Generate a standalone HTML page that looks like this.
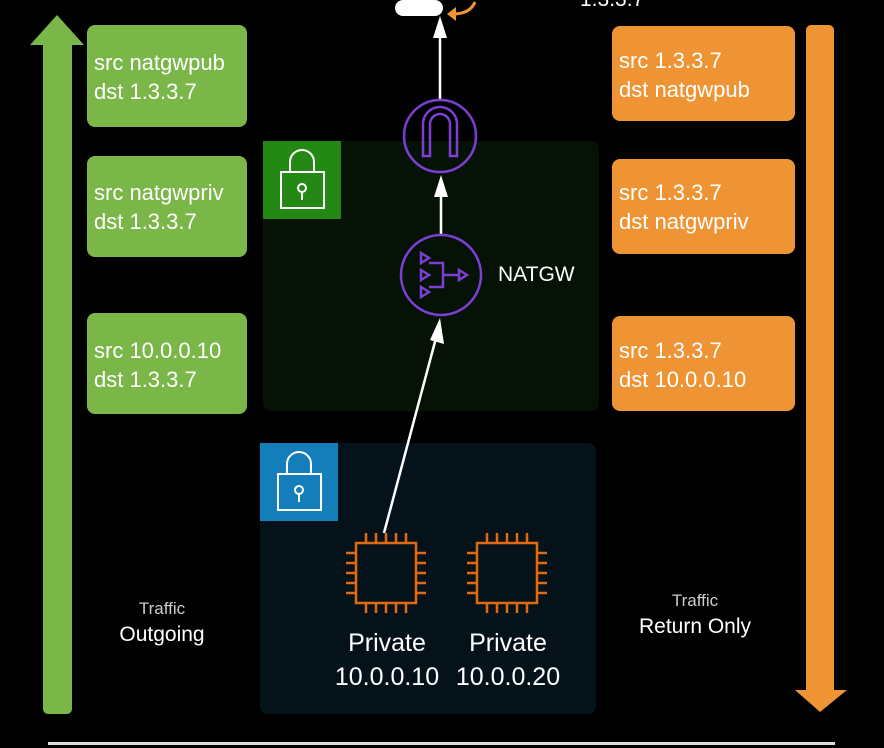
<!DOCTYPE html>
<html><head><style>
body{margin:0;background:#000;width:884px;height:748px;overflow:hidden;position:relative;font-family:"Liberation Sans","DejaVu Sans",sans-serif;}
.b{position:absolute;border-radius:8px;color:#fff;font-size:22px;line-height:29px;box-sizing:border-box;padding:22px 0 0 7px;}
.g{background:#7ab648;left:87px;width:160px;}
.o{background:#ee9434;left:612px;width:183px;}
.t{position:absolute;color:#fff;text-align:center;}
</style></head><body>
<svg width="884" height="748" style="position:absolute;left:0;top:0">
<rect x="263" y="141" width="336" height="270" rx="8" fill="#071207"/>
<rect x="263" y="141" width="78" height="78" fill="#248814"/>
<rect x="260" y="443" width="336" height="271" rx="8" fill="#05121a"/>
<rect x="260" y="443" width="78" height="78" fill="#147eba"/>
<g fill="none" stroke="#fff" stroke-width="2">
<path d="M290 172v-10a12 12 0 0 1 24 0v10"/><rect x="281" y="172" width="43" height="36"/><circle cx="302" cy="188" r="4"/><path d="M302 192v8"/>
<path d="M287 474v-10a12 12 0 0 1 24 0v10"/><rect x="278" y="474" width="43" height="36"/><circle cx="299" cy="490" r="4"/><path d="M299 494v8"/>
</g>
<rect x="43" y="40" width="29" height="674" rx="5" fill="#7ab648"/>
<path d="M30 45L57 15L84 45Z" fill="#7ab648"/>
<rect x="806" y="25" width="28" height="670" rx="5" fill="#ee9434"/>
<path d="M795 690L820 712L847 690Z" fill="#ee9434"/>
<rect x="48" y="742" width="787" height="3" fill="#ddd"/>
<rect x="395" y="0" width="48" height="16" rx="8" fill="#fff"/>
<path d="M475 2q-5 12-22 12" stroke="#ee9434" stroke-width="3" fill="none"/>
<path d="M447 14l9-7v14z" fill="#ee9434"/>
<g stroke="#fff" stroke-width="2.5" fill="#fff">
<line x1="440" y1="100" x2="440" y2="38"/><path d="M433 38L440 16L447 38Z" stroke="none"/>
<line x1="441" y1="235" x2="441" y2="195"/><path d="M434 197L441 175L448 197Z" stroke="none"/>
<line x1="384" y1="533" x2="436" y2="338"/><path d="M430 340L440 318L444 344Z" stroke="none"/>
</g>
<g fill="none" stroke="#7b3fd4" stroke-width="2.5">
<circle cx="440" cy="136" r="36"/>
<path d="M423 156v-32a17 17 0 0 1 34 0v32h-7v-32a10 10 0 0 0-20 0v32z"/>
<circle cx="441" cy="275" r="40"/>
<path d="M421 253l8 5-8 5zM421 270l8 5-8 5zM421 287l8 5-8 5zM429 263h14v24h-14M443 275h16M459 270l8 5-8 5z"/>
</g>
<g fill="none" stroke="#e2690f" stroke-width="2.5">
<rect x="356" y="543" width="60" height="60"/>
<rect x="477" y="543" width="60" height="60"/>
<path d="M366 533v10M376 533v10M386 533v10M396 533v10M406 533v10M366 603v10M376 603v10M386 603v10M396 603v10M406 603v10M346 553h10M346 563h10M346 573h10M346 583h10M346 593h10M416 553h10M416 563h10M416 573h10M416 583h10M416 593h10"/>
<path d="M487 533v10M497 533v10M507 533v10M517 533v10M527 533v10M487 603v10M497 603v10M507 603v10M517 603v10M527 603v10M467 553h10M467 563h10M467 573h10M467 583h10M467 593h10M537 553h10M537 563h10M537 573h10M537 583h10M537 593h10"/>
</g>
</svg>
<div class="b g" style="top:25px;height:102px;padding-top:23px">src natgwpub<br>dst 1.3.3.7</div>
<div class="b g" style="top:156px;height:101px;padding-top:22px">src natgwpriv<br>dst 1.3.3.7</div>
<div class="b g" style="top:313px;height:101px;padding-top:23px">src 10.0.0.10<br>dst 1.3.3.7</div>
<div class="b o" style="top:26px;height:95px;padding-top:20px">src 1.3.3.7<br>dst natgwpub</div>
<div class="b o" style="top:159px;height:95px;padding-top:19px">src 1.3.3.7<br>dst natgwpriv</div>
<div class="b o" style="top:316px;height:95px;padding-top:20px">src 1.3.3.7<br>dst 10.0.0.10</div>
<div class="t" style="left:580px;top:-12px;font-size:21px">1.3.3.7</div>
<div class="t" style="left:498px;top:263px;font-size:21px">NATGW</div>
<div class="t" style="left:100px;top:599px;width:124px;font-size:17px;color:#ccc">Traffic</div>
<div class="t" style="left:100px;top:623px;width:124px;font-size:21px">Outgoing</div>
<div class="t" style="left:620px;top:591px;width:150px;font-size:17px;color:#ccc">Traffic</div>
<div class="t" style="left:620px;top:615px;width:150px;font-size:21px">Return Only</div>
<div class="t" style="left:322px;top:626px;width:130px;font-size:25px;line-height:34px">Private<br>10.0.0.10</div>
<div class="t" style="left:443px;top:626px;width:130px;font-size:25px;line-height:34px">Private<br>10.0.0.20</div>
</body></html>
